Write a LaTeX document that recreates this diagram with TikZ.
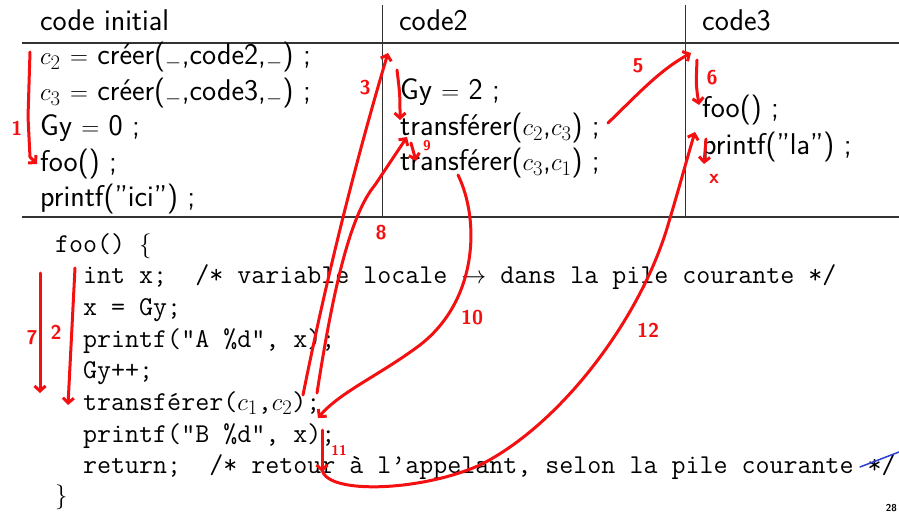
\documentclass[tikz,border=0pt]{standalone}
\usepackage{amsmath,amssymb}
\usepackage{tikz}
\usetikzlibrary{arrows.meta}
\definecolor{penred}{HTML}{F41010}
\definecolor{penblue}{HTML}{2C3ED6}
\definecolor{rulegray}{HTML}{333333}
\tikzset{
  code/.style={anchor=base west,inner sep=0pt,font=\fontsize{30}{36}\selectfont\sffamily},
  prog/.style={anchor=base west,inner sep=0pt,font=\fontsize{27.2}{32}\selectfont\ttfamily},
  pen/.style={penred,line width=3pt,line cap=round,line join=round},
  num/.style={penred,inner sep=0pt,font=\fontsize{20}{20}\selectfont\sffamily\bfseries},
  small num/.style={num,font=\fontsize{14}{14}\selectfont\sffamily\bfseries},
}

\begin{document}
\begin{tikzpicture}[x=1pt,y=-1pt,>={Straight Barb[length=5pt,width=11pt]}]
  \useasboundingbox (0,0) rectangle (899,513);
  \draw[rulegray,line width=1.2pt] (22,43) -- (899,43);
  \draw[rulegray,line width=1.2pt] (22,217) -- (899,217);
  \draw[rulegray,line width=1pt] (382,5) -- (382,217);
  \draw[rulegray,line width=1pt] (685,5) -- (685,217);

  \node[code] (h1) at (40,31) {code initial};
  \node[code] (h2) at (399,31) {code2};
  \node[code] (h3) at (702,31) {code3};

  \node[code] (a1) at (40,65) {$c_2$ $=$ créer($_-$,code2,$_-$) ;};
  \node[code] (a2) at (40,101) {$c_3$ $=$ créer($_-$,code3,$_-$) ;};
  \node[code] (a3) at (40,136) {Gy $=$ 0 ;};
  \node[code] (a4) at (40,172) {foo() ;};
  \node[code] (a5) at (40,207) {printf(''ici'') ;};

  \node[code] (b1) at (400,100) {Gy $=$ 2 ;};
  \node[code] (b2) at (400,136) {transférer($c_2$,$c_3$) ;};
  \node[code] (b3) at (400,171) {transférer($c_3$,$c_1$) ;};

  \node[code] (d1) at (702,118) {foo() ;};
  \node[code] (d2) at (702,155) {printf(''la'') ;};

  \node[prog] (f0) at (55,252) {foo() $\{$};
  \node[prog] (f1) at (83,283) {int x;\ \ /* variable locale $\rightarrow$ dans la pile courante */};
  \node[prog] (f2) at (83,315) {x = Gy;};
  \node[prog] (f3) at (83,347) {printf("A \%d", x);};
  \node[prog] (f4) at (83,378) {Gy++;};
  \node[prog] (f5) at (83,410) {transférer($c_1$,$c_2$);};
  \node[prog] (f6) at (83,442) {printf("B \%d", x);};
  \node[prog] (f7) at (83,473) {return;\ \ /* retour à l\textquoteright appelant, selon la pile courante */};
  \node[prog] (f8) at (55,503) {$\}$};

  \node[anchor=base east,inner sep=0pt,font=\fontsize{10}{10}\selectfont\sffamily\bfseries] (page) at (897,511) {28};

  \coordinate (one-s) at (30,52);
  \coordinate (one-e) at (37,164);
  \coordinate (two-s) at (75,268);
  \coordinate (two-e) at (68,405);
  \coordinate (sev-s) at (40,273);
  \coordinate (sev-e) at (40,393);
  \coordinate (thr-s) at (303,395);
  \coordinate (thr-e) at (388,53);
  \coordinate (fou-s) at (397,70);
  \coordinate (fou-e) at (400,120);
  \coordinate (fiv-s) at (608,123);
  \coordinate (fiv-e) at (691,53);
  \coordinate (six-s) at (697,60);
  \coordinate (six-e) at (699,105);
  \coordinate (sev2-s) at (706,139);
  \coordinate (sev2-e) at (704,164);
  \coordinate (eig-s) at (317,393);
  \coordinate (eig-e) at (407,137);
  \coordinate (nin-s) at (411,143);
  \coordinate (nin-e) at (416,161);
  \coordinate (ten-s) at (458,175);
  \coordinate (ten-e) at (318,418);
  \coordinate (ele-s) at (322,430);
  \coordinate (ele-e) at (322,472);
  \coordinate (twl-s) at (322,468);
  \coordinate (twl-e) at (695,132);

  \draw[pen,->] (one-s) -- (28,117) -- (30,157) -- (one-e);
  \draw[pen,->] (two-s) -- (two-e);
  \draw[pen,->] (sev-s) -- (sev-e);
  \draw[pen,->] (thr-s) .. controls (330,260) and (362,140) .. (thr-e);
  \draw[pen,->] (fou-s) .. controls (400,95) .. (fou-e);
  \draw[pen,->] (fiv-s) .. controls (640,92) and (660,70) .. (fiv-e);
  \draw[pen,->] (six-s) .. controls (696,85) .. (six-e);
  \draw[pen,->] (sev2-s) -- (sev2-e);
  \draw[pen,->] (eig-s) .. controls (333,290) and (350,215) .. (375,185) -- (eig-e);
  \draw[pen,->] (nin-s) -- (nin-e);
  \draw[pen,->] (ten-s) .. controls (480,220) and (478,300) .. (420,345)
    .. controls (380,375) and (340,392) .. (ten-e);
  \draw[pen,->] (ele-s) -- (ele-e);
  \draw[pen,->] (twl-s) .. controls (322,495) and (420,492) .. (480,465)
    .. controls (560,425) and (640,320) .. (668,225)
    .. controls (680,185) and (688,155) .. (twl-e);
  \draw[penblue,line width=1.5pt,line cap=round] (860,467) -- (899,452);

  \node[num] (n1) at (17,128) {1};
  \node[num] (n2) at (56,332) {2};
  \node[num] (n3) at (365,88) {3};
  \node[num] (n5) at (638,66) {5};
  \node[num] (n6) at (712,78) {6};
  \node[num] (n7) at (32,338) {7};
  \node[num] (n8) at (381,233) {8};
  \node[small num] (n9) at (427,146) {9};
  \node[num] (n10) at (472,318) {10};
  \node[small num] (n11) at (339,450) {11};
  \node[num] (n12) at (648,330) {12};
  \node[num] (nx) at (714,179) {x};
\end{tikzpicture}
\end{document}
